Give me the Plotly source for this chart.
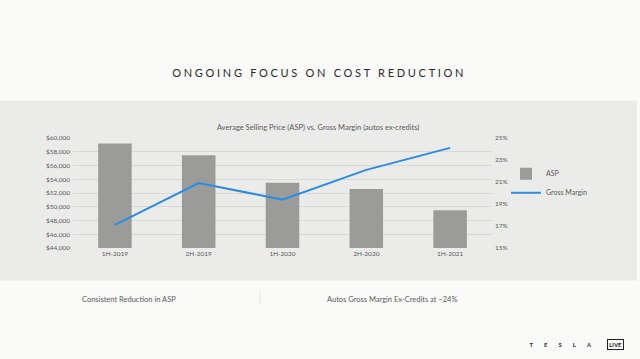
import plotly.graph_objects as go

# ---- data ----
periods = ["1H-2019", "2H-2019", "1H-2020", "2H-2020", "1H-2021"]
asp = [59200, 57500, 53500, 52600, 49500]
gross_margin = [17.1, 20.9, 19.4, 22.1, 24.1]
asp_ticks = [44000, 46000, 48000, 50000, 52000, 54000, 56000, 58000, 60000]
gm_ticks = [15, 17, 19, 21, 23, 25]
gm_tick_labels = ["15%", "17%", "19%", "21%", "23%", "25%"]

W, H = 640, 359
L, R, T, B = 73, 492, 137.7, 248.3  # plot area in pixels


def px(x):
    return (x - L) / (R - L)


def py(y):
    return (B - y) / (B - T)


TXT = "#595959"
FONT = "Lato"

fig = go.Figure()
fig.add_trace(go.Bar(
    x=periods, y=asp, name="ASP", marker_color="#9b9b99",
    marker_line_width=0, yaxis="y",
))
fig.add_trace(go.Scatter(
    x=periods, y=gross_margin, name="Gross Margin", mode="lines",
    line=dict(color="#2a8ce4", width=2), yaxis="y2",
))

fig.update_layout(
    width=W, height=H,
    margin=dict(l=L, r=W - R, t=T, b=H - B, pad=0),
    paper_bgcolor="#fafbf9",
    plot_bgcolor="rgba(0,0,0,0)",
    font=dict(family=FONT, color=TXT, size=7),
    bargap=0.6,
    showlegend=True,
    legend=dict(x=px(506), y=py(159), xanchor="left", yanchor="top",
                bgcolor="rgba(0,0,0,0)", font=dict(size=7, color=TXT),
                itemwidth=30),
    xaxis=dict(showgrid=False, showline=False, ticks="", tickfont=dict(size=6.5, color=TXT)),
    yaxis=dict(range=[44000, 60000], tickvals=asp_ticks, tickformat="$,.0f",
               showgrid=True, gridcolor="#d8d8d6", gridwidth=1, zeroline=False,
               ticks="", tickfont=dict(size=6.5, color=TXT), ticklabelstandoff=2),
    yaxis2=dict(range=[15, 25], tickvals=gm_ticks, ticktext=gm_tick_labels, overlaying="y",
                side="right", showgrid=False, zeroline=False, ticks="",
                tickfont=dict(size=6.5, color=TXT), ticklabelstandoff=2),
    shapes=[
        dict(type="rect", xref="paper", yref="paper", x0=px(0), x1=px(637),
             y0=py(281), y1=py(100), fillcolor="#ebecea", line_width=0, layer="below"),
        dict(type="line", xref="paper", yref="paper", x0=px(260), x1=px(260),
             y0=py(305), y1=py(292), line=dict(color="#e3e4e2", width=1)),
    ],
    annotations=[
        dict(text="ONGOING FOCUS ON COST REDUCTION", xref="paper", yref="paper",
             x=px(319), y=py(72), showarrow=False, xanchor="center", yanchor="middle",
             font=dict(size=11, color="#2a2a2a", family=FONT)),
        dict(text="Average Selling Price (ASP) vs. Gross Margin (autos ex-credits)",
             xref="paper", yref="paper", x=px(318), y=py(127), showarrow=False,
             xanchor="center", yanchor="middle", font=dict(size=7.5, color=TXT)),
        dict(text="Consistent Reduction in ASP", xref="paper", yref="paper",
             x=px(129), y=py(300), showarrow=False, xanchor="center", yanchor="middle",
             font=dict(size=7.5, color=TXT)),
        dict(text="Autos Gross Margin Ex-Credits at ~24%", xref="paper", yref="paper",
             x=px(392), y=py(300), showarrow=False, xanchor="center", yanchor="middle",
             font=dict(size=7.5, color=TXT)),
        dict(text="<b>TESLA</b>", xref="paper", yref="paper",
             x=px(566), y=py(345), showarrow=False, xanchor="center", yanchor="middle",
             font=dict(size=6, color="#333333")),
        dict(text="<b>LIVE</b>", xref="paper", yref="paper",
             x=px(615), y=py(345), showarrow=False, xanchor="center", yanchor="middle",
             font=dict(size=6, color="#222222"), bordercolor="#222222", borderwidth=1,
             borderpad=1),
    ],
)

post = """
document.body.style.margin = '0';
document.body.style.padding = '0';
var t = document.querySelectorAll('.annotation-text');
t.forEach(function(el){
  var s = el.textContent;
  if (s.indexOf('ONGOING') === 0) { el.style.letterSpacing = '2.7px'; }
  if (s === 'TESLA') { el.style.letterSpacing = '11px'; }
});
"""
fig.write_html("out.html", post_script=post, config={"displayModeBar": False})
